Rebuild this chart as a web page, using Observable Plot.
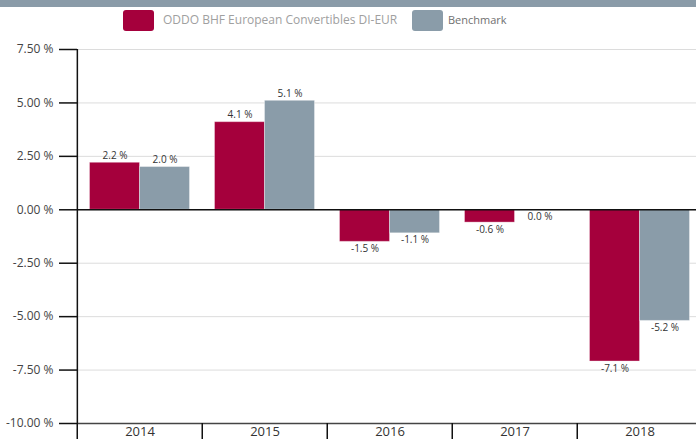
<!DOCTYPE html>
<html><head><meta charset="utf-8">
<script src="https://cdn.jsdelivr.net/npm/d3@7"></script>
<script src="https://cdn.jsdelivr.net/npm/@observablehq/plot@0.6"></script>
<style>
body{margin:0;background:#fff;font-family:"Open Sans",sans-serif;overflow:hidden;}
#topbar{height:7px;background:#8a9ba8;}
#legend{height:33px;position:relative;}
.sw{position:absolute;top:3px;width:31px;height:21px;border-radius:3px;}
.lt{position:absolute;top:4px;line-height:18px;white-space:nowrap;}
#chart{width:696px;overflow:hidden;}
#chart svg{max-width:none !important;}
</style></head><body>
<div id="topbar"></div>
<div id="legend"></div>
<div id="chart"></div>
<script>
const years = ["2014", "2015", "2016", "2017", "2018"];
const seriesNames = ["ODDO BHF European Convertibles DI-EUR", "Benchmark"];
const fundValues = [2.2, 4.1, -1.5, -0.6, -7.1];
const benchValues = [2.0, 5.1, -1.1, 0.0, -5.2];
const colors = ["#a5003c", "#8a9ca9"];
const yTicks = [7.5, 5, 2.5, 0, -2.5, -5, -7.5, -10];

const rows = years.flatMap((y, i) => [
  {year: y, series: seriesNames[0], value: fundValues[i]},
  {year: y, series: seriesNames[1], value: benchValues[i]}
]);

// legend
const legend = document.getElementById("legend");
legend.innerHTML = `
  <div class="sw" style="left:123px;background:${colors[0]}"></div>
  <div class="lt" style="left:163px;font-size:12px;color:#a0a0a0;">${seriesNames[0]}</div>
  <div class="sw" style="left:412px;background:${colors[1]}"></div>
  <div class="lt" style="left:448px;font-size:11px;color:#707070;font-weight:500;">${seriesNames[1]}</div>`;

const W = 703, ML = 75.5, MR = 0, H = 399, MT = 9, MB = 16;
const bw = (W - ML - MR) / years.length;
const po = 0.25;
const step = bw / (2 + 2 * po);

const plot = Plot.plot({
  width: W, height: H, marginTop: MT, marginBottom: MB, marginLeft: ML, marginRight: MR,
  style: {fontFamily: "Open Sans, sans-serif", fontSize: "12px", color: "#333", background: "#fff", maxWidth: "none", overflow: "visible"},
  fx: {domain: years, padding: 0, label: null},
  x: {domain: seriesNames, paddingInner: 0, paddingOuter: po, axis: null},
  y: {domain: [-10, 7.5], label: null},
  color: {domain: seriesNames, range: colors},
  marks: [
    Plot.gridY(yTicks, {stroke: "#dcdcdc", strokeOpacity: 1}),
    Plot.barY(rows, {fx: "year", x: "series", y: "value", fill: "series", stroke: "#fff", strokeOpacity: 0.35}),
    Plot.ruleY([0], {stroke: "#111", strokeWidth: 1.5}),
    Plot.ruleY([-10], {stroke: "#444", strokeWidth: 1.5}),
    Plot.ruleX([years[0]], {fx: d => d, x: () => seriesNames[0], dx: -(po * step + step / 2), y1: -10, y2: 7.5, stroke: "#111", strokeWidth: 1.5}),
    Plot.axisY(yTicks, {tickSize: 18, tickPadding: 6, tickFormat: d => d.toFixed(2) + " %", stroke: "#111", strokeWidth: 1.5, fill: "#444", fontSize: 12, label: null}),
    Plot.axisFx({anchor: "bottom", tickSize: 0, tickPadding: 3, fontSize: 13, fill: "#333", label: null}),
    Plot.axisFx({anchor: "bottom", tickSize: 16, tickFormat: () => "", dx: -bw / 2, stroke: "#111", strokeWidth: 1.5, label: null}),
    Plot.text(rows, {filter: d => d.value > 0, fx: "year", x: "series", y: "value", text: d => d.value.toFixed(1) + " %", dy: -7, fontSize: 10, fill: "#333"}),
    Plot.text(rows, {filter: d => d.value <= 0, fx: "year", x: "series", y: "value", text: d => d.value.toFixed(1) + " %", dy: 7, fontSize: 10, fill: "#333"})
  ]
});
document.getElementById("chart").appendChild(plot);
</script>
</body></html>
